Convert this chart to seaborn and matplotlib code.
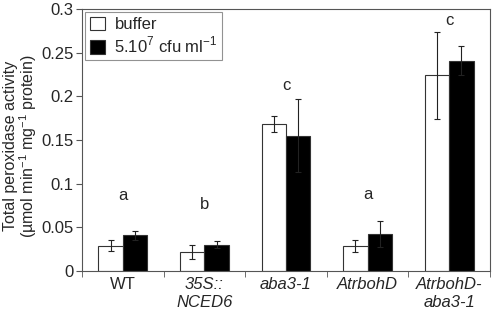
import matplotlib
matplotlib.use('Agg')
import matplotlib.pyplot as plt
import seaborn as sns
import pandas as pd
import numpy as np

lines = ['WT', '35S::\nNCED6', 'aba3-1', 'AtrbohD', 'AtrbohD-\naba3-1']
buffer_vals = [0.029, 0.022, 0.168, 0.029, 0.224]
buffer_err = [0.006, 0.008, 0.009, 0.007, 0.050]
bact_vals = [0.041, 0.030, 0.155, 0.042, 0.241]
bact_err = [0.005, 0.004, 0.042, 0.015, 0.017]
letters = ['a', 'b', 'c', 'a', 'c']
letter_y = [0.087, 0.076, 0.213, 0.088, 0.287]
treatments = ['buffer', '5.10$^{7}$ cfu ml$^{-1}$']

sns.set_style('white')
plt.rcParams['font.family'] = ['Liberation Sans', 'DejaVu Sans']
plt.rcParams['mathtext.fontset'] = 'custom'
plt.rcParams['mathtext.rm'] = 'Liberation Sans'

df = pd.DataFrame({
    'line': lines * 2,
    'value': buffer_vals + bact_vals,
    'treatment': [treatments[0]] * 5 + [treatments[1]] * 5,
})

fig, ax = plt.subplots(figsize=(5, 3.13), dpi=100)
sns.barplot(data=df, x='line', y='value', hue='treatment',
            palette=['white', 'black'], edgecolor='#333333', linewidth=0.8,
            width=0.6, errorbar=None, ax=ax)

for cont, errs in zip(ax.containers, [buffer_err, bact_err]):
    for bar, e in zip(cont, errs):
        xc = bar.get_x() + bar.get_width() / 2
        ax.errorbar(xc, bar.get_height(), yerr=e, color='#222222',
                    capsize=2.5, elinewidth=0.8, capthick=0.8)

for i, (t, y) in enumerate(zip(letters, letter_y)):
    ax.text(i, y, t, ha='center', va='center', fontsize=12)

ax.set_xlim(-0.5, 4.5)
ax.set_ylim(0, 0.3)
ax.set_yticks([0, 0.05, 0.1, 0.15, 0.2, 0.25, 0.3])
ax.set_yticklabels(['0', '0.05', '0.1', '0.15', '0.2', '0.25', '0.3'], fontsize=12)
ax.set_xticks(range(5))
ax.set_xticklabels(lines, fontsize=12, linespacing=1.3)
for i, lab in enumerate(ax.get_xticklabels()):
    if i > 0:
        lab.set_style('italic')
ax.set_xticks(np.arange(-0.5, 5, 1), minor=True)
ax.tick_params(axis='x', which='major', length=0, pad=4)
ax.tick_params(axis='x', which='minor', length=4, direction='out', color='#555555', bottom=True)
ax.tick_params(axis='y', length=4, direction='out', color='#555555', left=True, pad=2)
ax.set_xlabel('')
ax.set_ylabel('Total peroxidase activity\n(µmol min$^{-1}$ mg$^{-1}$ protein)', fontsize=11.5,
              linespacing=0.95)
ax.yaxis.set_label_coords(-0.105, 0.477)

for s in ax.spines.values():
    s.set_color('#555555')
    s.set_linewidth(0.8)

leg = ax.legend(loc='upper left', fontsize=12, frameon=True, fancybox=False,
                edgecolor='#777777', borderaxespad=0.2, handlelength=0.9,
                handleheight=0.9, borderpad=0.25, labelspacing=0.15, handletextpad=0.6)
leg.get_frame().set_linewidth(0.8)

plt.subplots_adjust(left=0.164, right=0.98, top=0.971, bottom=0.134)
fig.savefig('out.png', dpi=100)
